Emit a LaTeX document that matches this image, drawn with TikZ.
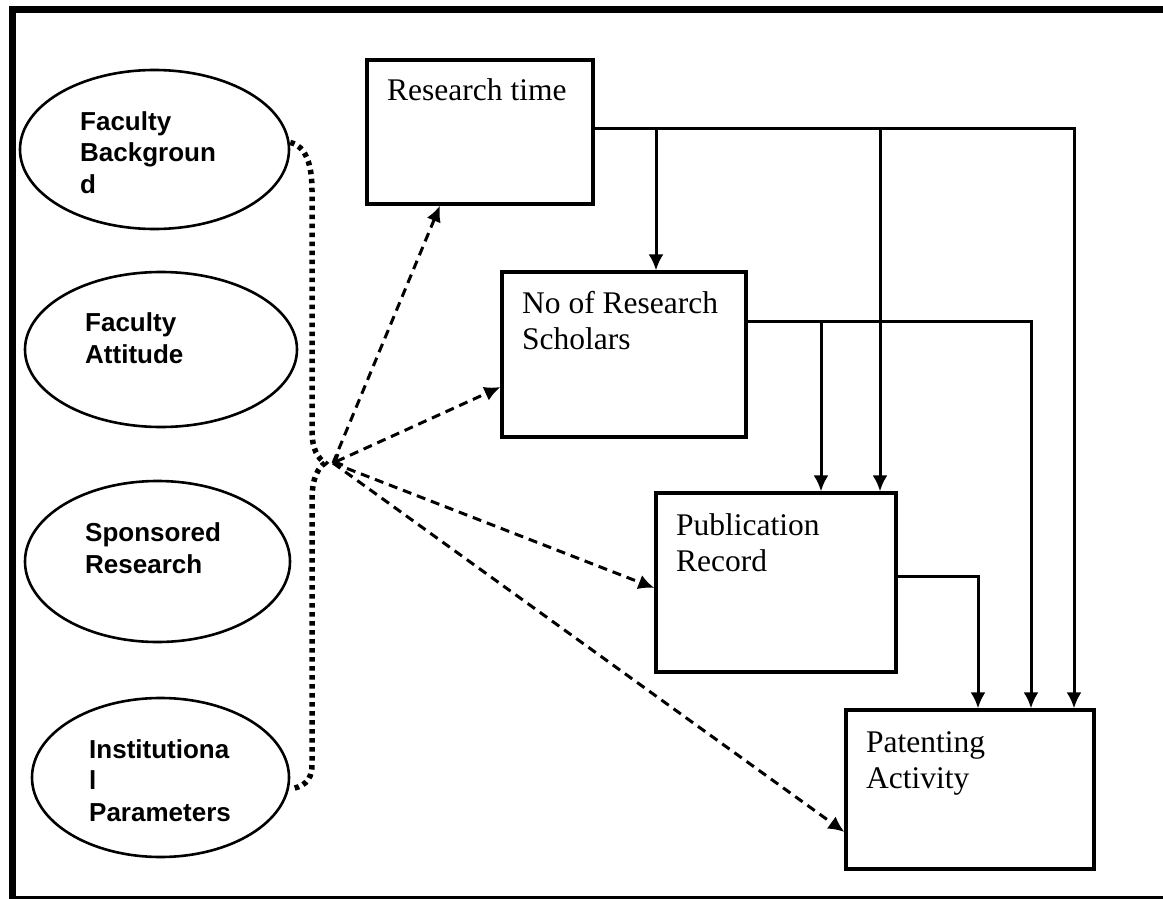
\documentclass[tikz,border=0pt]{standalone}
\usepackage{fontspec}
\setmainfont{Liberation Serif}
\setsansfont{Liberation Sans}
\usetikzlibrary{shapes.geometric, arrows.meta}

\begin{document}
\begin{tikzpicture}[x=1pt, y=-1pt, >={Latex[length=16pt,width=15pt]}]
  \tikzstyle{oval} = [draw, ellipse, line width=2.6pt, inner sep=0pt]
  \tikzstyle{box} = [draw, rectangle, line width=3.2pt, inner sep=0pt]
  \tikzstyle{ovaltext} = [font=\sffamily\bfseries\fontsize{26}{31.5}\selectfont, align=left, inner sep=0pt, anchor=base west]
  \tikzstyle{boxtext} = [font=\fontsize{31.5}{36}\selectfont, align=left, inner sep=0pt, anchor=base west]
  \tikzstyle{link} = [line width=3pt]
  \tikzstyle{dline} = [line width=3pt, dash pattern=on 9pt off 6pt]
  \tikzstyle{dotline} = [line width=5.5pt, dash pattern=on 4.5pt off 4.5pt]
  \useasboundingbox (0,0) rectangle (1163,899);

  \draw[line width=7pt] (9,9.5) -- (1163,9.5);
  \draw[line width=7pt] (12.5,6) -- (12.5,899);
  \draw[line width=3pt] (9,897) -- (1163,897);

  \node[oval, minimum width=269, minimum height=159] (fb) at (154.5,149.5) {};
  \node[oval, minimum width=272, minimum height=155] (fa) at (161,349.5) {};
  \node[oval, minimum width=265, minimum height=161] (sr) at (157.5,561.5) {};
  \node[oval, minimum width=257, minimum height=159] (ip) at (160.5,777.5) {};
  \node[ovaltext] (fbt) at (80,193) {Faculty\\Backgroun\\d};
  \node[ovaltext] (fat) at (85,363) {Faculty\\Attitude};
  \node[ovaltext] (srt) at (85,573) {Sponsored\\Research};
  \node[ovaltext] (ipt) at (89,821) {Institutiona\\l\\Parameters};

  \node[box, minimum width=226, minimum height=144] (rt) at (480,132) {};
  \node[box, minimum width=244, minimum height=165] (nrs) at (624,354.5) {};
  \node[box, minimum width=240, minimum height=179] (pub) at (776,582.5) {};
  \node[box, minimum width=248, minimum height=159] (pat) at (970,789.5) {};
  \node[boxtext] (rtt) at (387,101) {Research time};
  \node[boxtext] (nrst) at (522,349) {No of Research\\Scholars};
  \node[boxtext] (pubt) at (676,571) {Publication\\Record};
  \node[boxtext] (patt) at (866,788) {Patenting\\Activity};

  \coordinate (rtout) at ([yshift=4pt]rt.east);
  \coordinate (nrsout) at ([yshift=33.5pt]nrs.east);
  \coordinate (pubout) at ([yshift=6.5pt]pub.east);
  \draw[link, ->] (rtout) -| ([xshift=104pt]pat.north);
  \draw[link, ->] (rtout -| 656,0) -- ([xshift=32pt]nrs.north);
  \draw[link, ->] (rtout -| 880,0) -- ([xshift=104pt]pub.north);
  \draw[link, ->] (nrsout) -| ([xshift=61pt]pat.north);
  \draw[link, ->] (nrsout -| 821,0) -- ([xshift=45pt]pub.north);
  \draw[link, ->] (pubout) -| ([xshift=8pt]pat.north);

  \coordinate (kink) at (325,463);
  \coordinate (hub) at (333,463);
  \draw[dotline] ([yshift=7pt]fb.east) .. controls (306,146) and (312,165) .. (312,190) -- (312,430)
    .. controls (312,450) and (318,458) .. (kink)
    .. controls (318,468) and (312,478) .. (312,500) -- (312,765)
    .. controls (312,782) and (302,787) .. ([yshift=-11.5pt]ip.east);

  \draw[dline, ->] (hub) -- ([xshift=-40pt]rt.south);
  \draw[dline, {Straight Barb[length=6pt,width=12pt]}->] (hub) -- ([yshift=-32.5pt]nrs.west);
  \draw[dline, ->] (hub) -- ([yshift=-5.5pt]pub.west);
  \draw[dline, ->] (hub) -- ([yshift=-42.5pt]pat.west);
\end{tikzpicture}
\end{document}
